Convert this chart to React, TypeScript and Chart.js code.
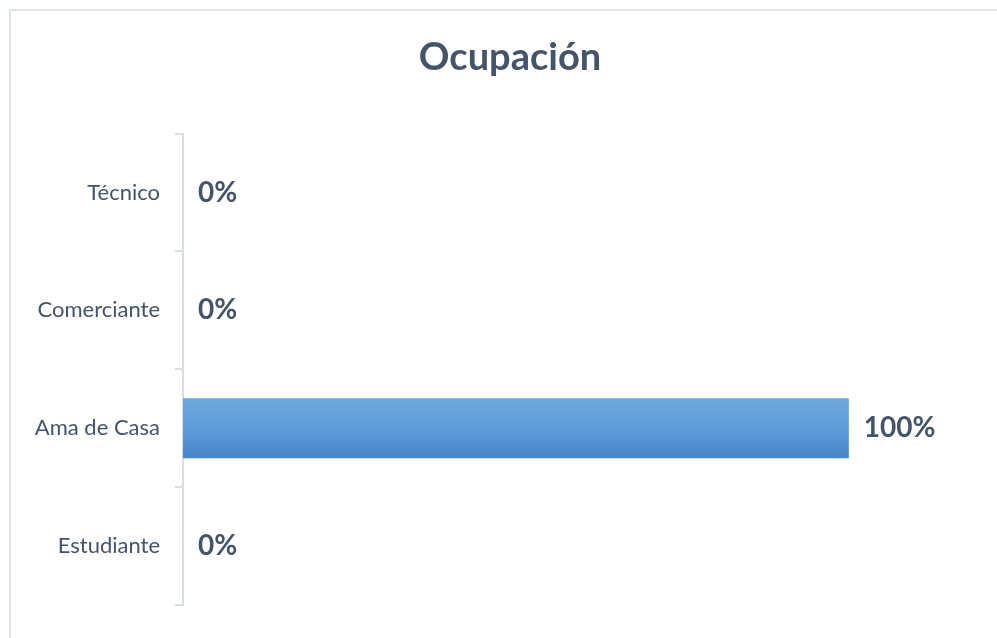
import React, { useEffect, useRef } from "react";
import { Chart, registerables } from "chart.js";

Chart.register(...registerables);

const title = "Ocupación";
const categories = ["Técnico", "Comerciante", "Ama de Casa", "Estudiante"];
const values = [0, 0, 100, 0];
const valueLabels = ["0%", "0%", "100%", "0%"];

const TEXT_COLOR = "#44546A";
const AXIS_COLOR = "#d9dde6";
const FONT = "Lato";
const BAR_PCT = 0.51;

const dataLabelPlugin = {
  id: "dataLabels",
  afterDatasetsDraw(chart: any) {
    const ctx = chart.ctx;
    const meta = chart.getDatasetMeta(0);
    ctx.save();
    ctx.font = `bold 28px ${FONT}`;
    ctx.fillStyle = TEXT_COLOR;
    ctx.textAlign = "left";
    ctx.textBaseline = "middle";
    meta.data.forEach((el: any, i: number) => {
      ctx.fillText(valueLabels[i], el.x + 15, el.y);
    });
    ctx.restore();
  },
};

export default function App() {
  const ref = useRef<HTMLCanvasElement | null>(null);

  useEffect(() => {
    if (!ref.current) return;
    const chart = new Chart(ref.current, {
      type: "bar",
      data: {
        labels: categories,
        datasets: [
          {
            data: values,
            barPercentage: BAR_PCT,
            categoryPercentage: 1,
            borderWidth: 0,
            backgroundColor: (c: any) => {
              const ch = c.chart;
              const y = ch.scales && ch.scales.y;
              if (!y || c.dataIndex === undefined) return "#5b9bd5";
              const center = y.getPixelForValue(c.dataIndex);
              const band = (y.bottom - y.top) / categories.length;
              const h = band * BAR_PCT;
              if (!isFinite(center) || !isFinite(h) || h <= 0) return "#5b9bd5";
              const g = ch.ctx.createLinearGradient(0, center - h / 2, 0, center + h / 2);
              g.addColorStop(0, "#70a8dd");
              g.addColorStop(0.5, "#5d9dda");
              g.addColorStop(1, "#4686c6");
              return g;
            },
          },
        ],
      },
      options: {
        indexAxis: "y",
        animation: false,
        responsive: true,
        maintainAspectRatio: false,
        layout: { padding: { left: 28, right: 5, top: 0, bottom: 33 } },
        plugins: {
          legend: { display: false },
          tooltip: { enabled: false },
          title: {
            display: true,
            text: title,
            color: TEXT_COLOR,
            font: { family: FONT, size: 38, weight: "bold", lineHeight: 1.2 },
            padding: { top: 35, bottom: 53 },
          },
        },
        scales: {
          x: { display: false, min: 0, max: 121.5 },
          y: {
            afterFit: (s: any) => {
              s.width = 155;
            },
            grid: {
              display: true,
              drawOnChartArea: false,
              drawTicks: true,
              tickLength: 8,
              color: AXIS_COLOR,
              lineWidth: 2,
              offset: true,
            },
            border: { display: true, color: AXIS_COLOR, width: 2 },
            ticks: {
              padding: 15,
              color: TEXT_COLOR,
              font: { family: FONT, size: 22 },
            },
          },
        },
      },
      plugins: [dataLabelPlugin],
    } as any);
    return () => chart.destroy();
  }, []);

  return (
    <div
      style={{
        position: "fixed",
        left: 0,
        top: 0,
        width: 997,
        height: 638,
        background: "#ffffff",
        overflow: "hidden",
      }}
    >
      <div
        style={{
          position: "absolute",
          left: 9,
          top: 9,
          width: 1000,
          height: 700,
          borderTop: "2px solid #e0e4ec",
          borderLeft: "2px solid #e0e4ec",
        }}
      />
      <div style={{ position: "absolute", left: 0, top: 0, width: 997, height: 638 }}>
        <canvas ref={ref} />
      </div>
    </div>
  );
}
